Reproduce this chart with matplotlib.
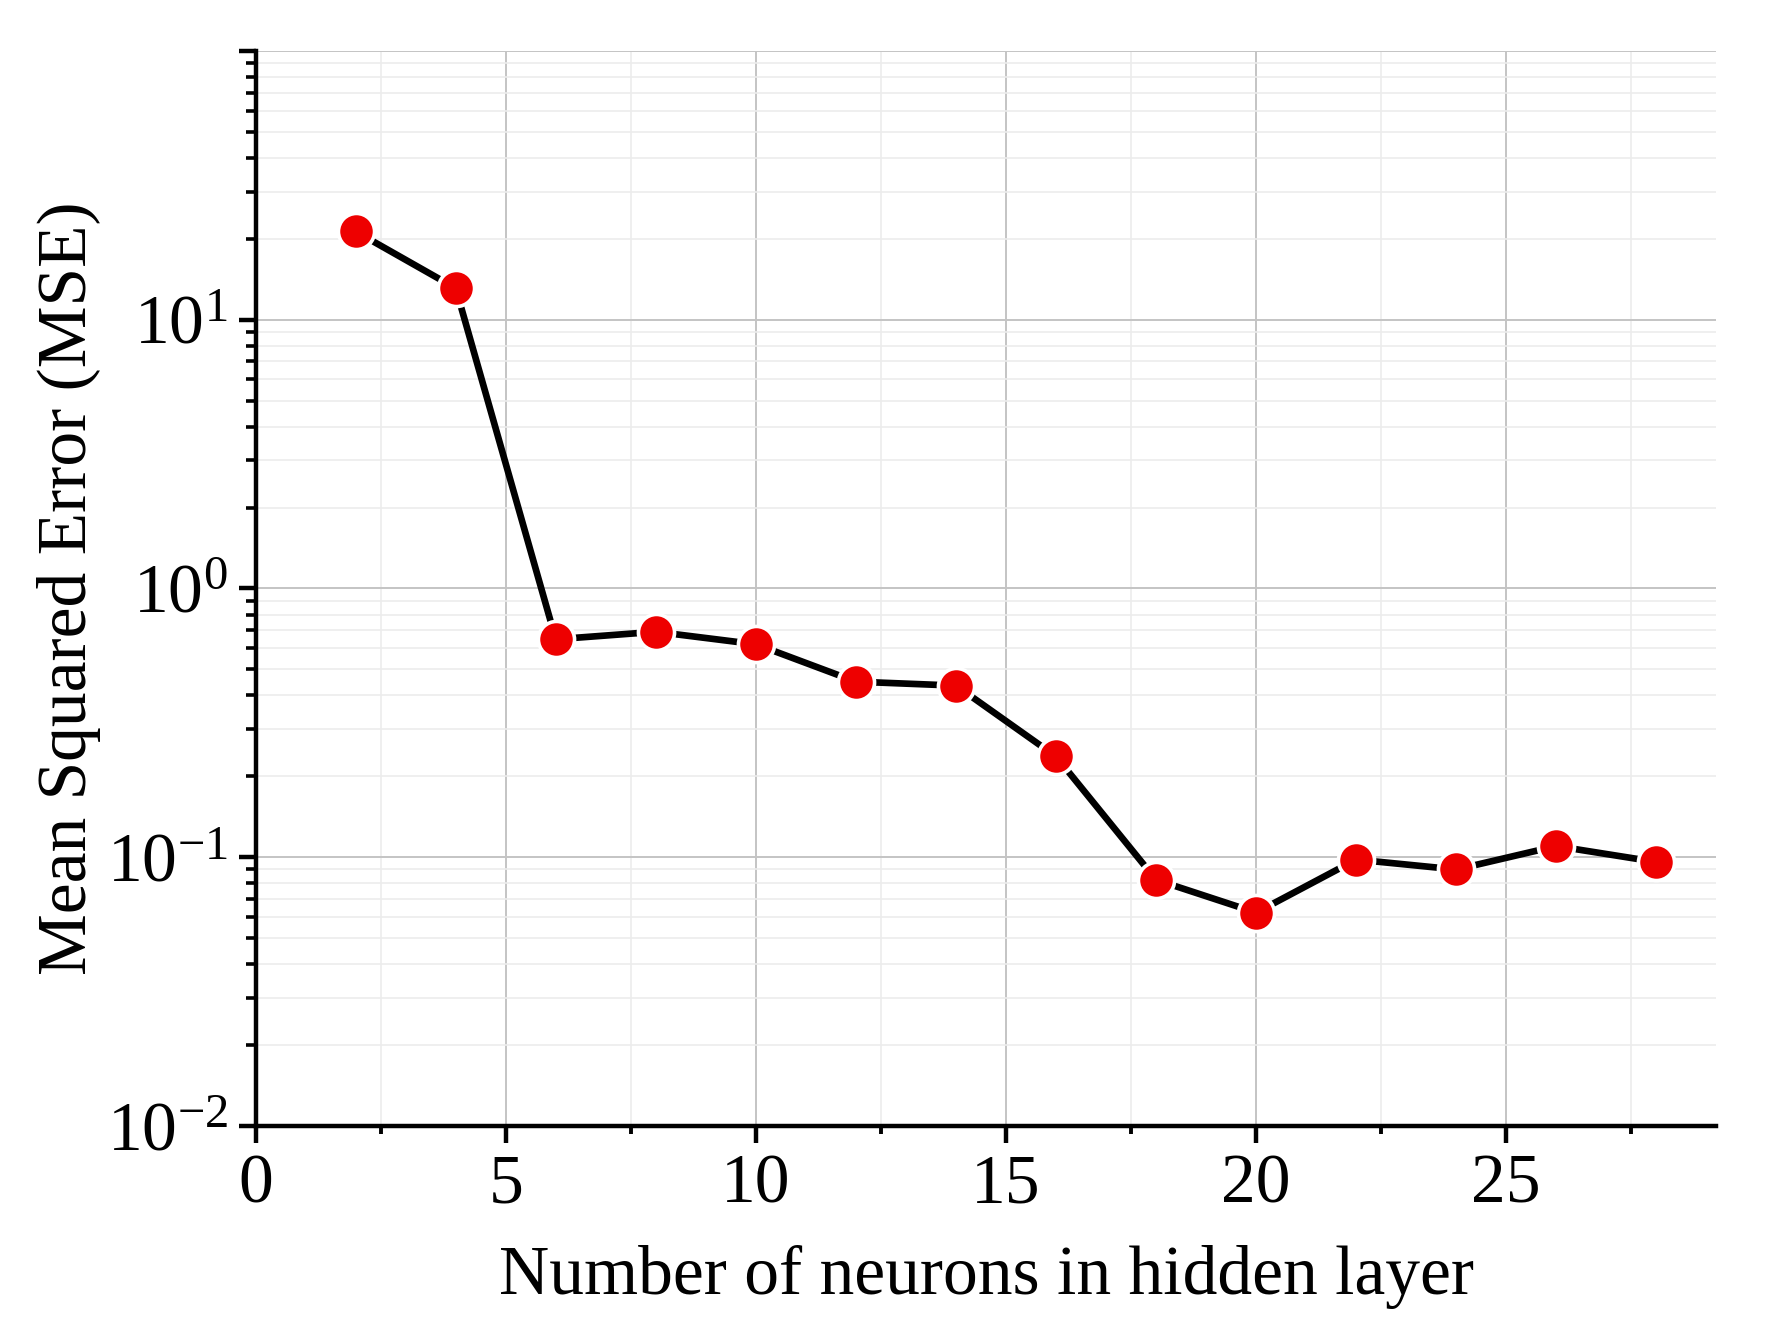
import matplotlib
matplotlib.use("Agg")
import matplotlib.pyplot as plt
from matplotlib.ticker import LogLocator, MultipleLocator, FuncFormatter, NullFormatter
import numpy as np

plt.rcParams['font.family'] = ['Liberation Serif', 'DejaVu Serif']
plt.rcParams['mathtext.fontset'] = 'custom'
plt.rcParams['mathtext.rm'] = 'Liberation Serif'
plt.rcParams['mathtext.it'] = 'Liberation Serif:italic'
plt.rcParams['mathtext.bf'] = 'Liberation Serif:bold'

neurons = [2, 4, 6, 8, 10, 12, 14, 16, 18, 20, 22, 24, 26, 28]
mse = [21.3, 13.1, 0.647, 0.69, 0.62, 0.45, 0.435, 0.237, 0.0824, 0.0622, 0.098, 0.090, 0.110, 0.096]

x_label = "Number of neurons in hidden layer"
y_label = "Mean Squared Error (MSE)"

fig = plt.figure(figsize=(8.875, 6.71), dpi=200)
ax = fig.add_axes([0.144, 0.161, 0.823, 0.801])

ax.plot(neurons, mse, color='black', lw=2.4, zorder=3,
        marker='o', markersize=13, markerfacecolor='#ee0000',
        markeredgecolor='white', markeredgewidth=1.3)

ax.set_yscale('log')
ax.set_xlim(0, 29.2)
ax.set_ylim(1e-2, 1e2)
ax.xaxis.set_major_locator(MultipleLocator(5))
ax.xaxis.set_minor_locator(MultipleLocator(2.5))
ax.yaxis.set_major_locator(LogLocator(base=10, numticks=10))
ax.yaxis.set_minor_locator(LogLocator(base=10, subs=range(2, 10), numticks=20))


def fmt(v, pos):
    e = int(round(np.log10(v)))
    if e >= 2:
        return ""
    return r"$\mathdefault{10^{%d}}$" % e


ax.yaxis.set_major_formatter(FuncFormatter(fmt))
ax.yaxis.set_minor_formatter(NullFormatter())

ax.grid(which='major', color='#c4c4c4', lw=0.7)
ax.grid(which='minor', color='#ececec', lw=0.6)
ax.set_axisbelow(True)

for s in ['top', 'right']:
    ax.spines[s].set_visible(False)
for s in ['left', 'bottom']:
    ax.spines[s].set_linewidth(1.6)

ax.tick_params(axis='x', which='major', length=6, width=1.6, labelsize=25, pad=4)
ax.tick_params(axis='x', which='minor', length=3, width=1.4)
ax.tick_params(axis='y', which='major', length=6, width=1.6, labelsize=25, pad=4)
ax.tick_params(axis='y', which='minor', length=3.5, width=1.3)

ax.set_xlabel(x_label, fontsize=25, labelpad=10)
ax.set_ylabel(y_label, fontsize=25, labelpad=2)

fig.savefig("out.png", dpi=200, facecolor='white')
